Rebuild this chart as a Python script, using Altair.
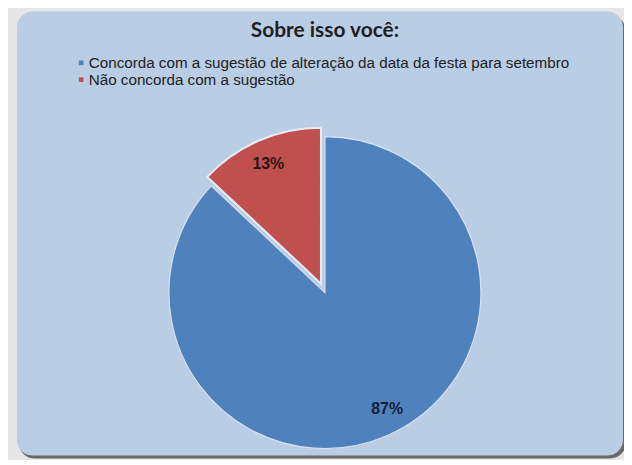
import altair as alt
import pandas as pd

categories = [
    "Concorda com a sugestão de alteração da data da festa para setembro",
    "Não concorda com a sugestão",
]
values = [87, 13]
labels = ["87%", "13%"]
colors = ["#4f81bd", "#c0504d"]
title_text = "Sobre isso você:"

df = pd.DataFrame({"cat": categories, "value": values, "label": labels, "order": [0, 1]})

W, H = 620, 452
CX, CY, R = 319, 285, 157

base = alt.Chart(df).transform_window(
    end="sum(value)", sort=[alt.SortField("order")], frame=[None, 0]
).transform_calculate(
    start="datum.end - datum.value", mid="datum.end - datum.value/2"
)

color = alt.Color(
    "cat:N",
    scale=alt.Scale(domain=categories, range=colors),
    sort=categories,
    legend=alt.Legend(
        title=None, orient="none", legendX=66, legendY=46,
        symbolType="square", symbolSize=22, symbolStrokeWidth=0,
        labelFont="Liberation Sans", labelFontSize=15.3, labelColor="#222222",
        labelLimit=0, rowPadding=1, labelOffset=0,
    ),
)

theta = alt.Theta("start:Q", scale=alt.Scale(domain=[0, 100]))
theta2 = alt.Theta2("end:Q")

# background panel + shadow
panel_df = pd.DataFrame({"k": [0]})
shadow = alt.Chart(panel_df).mark_rect(color="#4a4a4a", opacity=0.8, cornerRadius=16).encode(
    x=alt.value(11), x2=alt.value(622), y=alt.value(6), y2=alt.value(452)
)
panel = alt.Chart(panel_df).mark_rect(color="#b9cde5", cornerRadius=16).encode(
    x=alt.value(9), x2=alt.value(619), y=alt.value(2), y2=alt.value(449)
)

blue = base.transform_filter("datum.order == 0").mark_arc(
    outerRadius=R, stroke="#d6e2f0", strokeWidth=1.2
).encode(theta=theta, theta2=theta2, color=color, x=alt.value(CX), y=alt.value(CY))

red = base.transform_filter("datum.order == 1").mark_arc(
    outerRadius=R, stroke="#e4ebf5", strokeWidth=2, xOffset=-4, yOffset=-9
).encode(theta=theta, theta2=theta2, color=color, x=alt.value(CX), y=alt.value(CY))

tblue = base.transform_filter("datum.order == 0").mark_text(
    radius=130, font="Liberation Sans", fontWeight="bold", fontSize=16, color="#14203a",
    dx=11, dy=-2
).encode(theta=alt.Theta("mid:Q", scale=alt.Scale(domain=[0, 100])), text="label:N",
         x=alt.value(CX), y=alt.value(CY))

tred = base.transform_filter("datum.order == 1").mark_text(
    radius=131, font="Liberation Sans", fontWeight="bold", fontSize=16, color="#2a1414",
    dx=-5, dy=-9
).encode(theta=alt.Theta("mid:Q", scale=alt.Scale(domain=[0, 100])), text="label:N",
         x=alt.value(CX), y=alt.value(CY))

title = alt.Chart(panel_df).mark_text(
    text=title_text, font="Lato", fontWeight="bold", fontSize=21, color="#1f1f1f"
).encode(x=alt.value(319), y=alt.value(22))

chart = alt.layer(shadow, panel, blue, red, tblue, tred, title).properties(
    width=W, height=H, padding=0, background="#e6e6e6",
    autosize=alt.AutoSizeParams(type="fit", contains="padding"),
).configure_view(stroke=None)

chart.save("out.html", embed_options={"renderer": "svg", "actions": False})
